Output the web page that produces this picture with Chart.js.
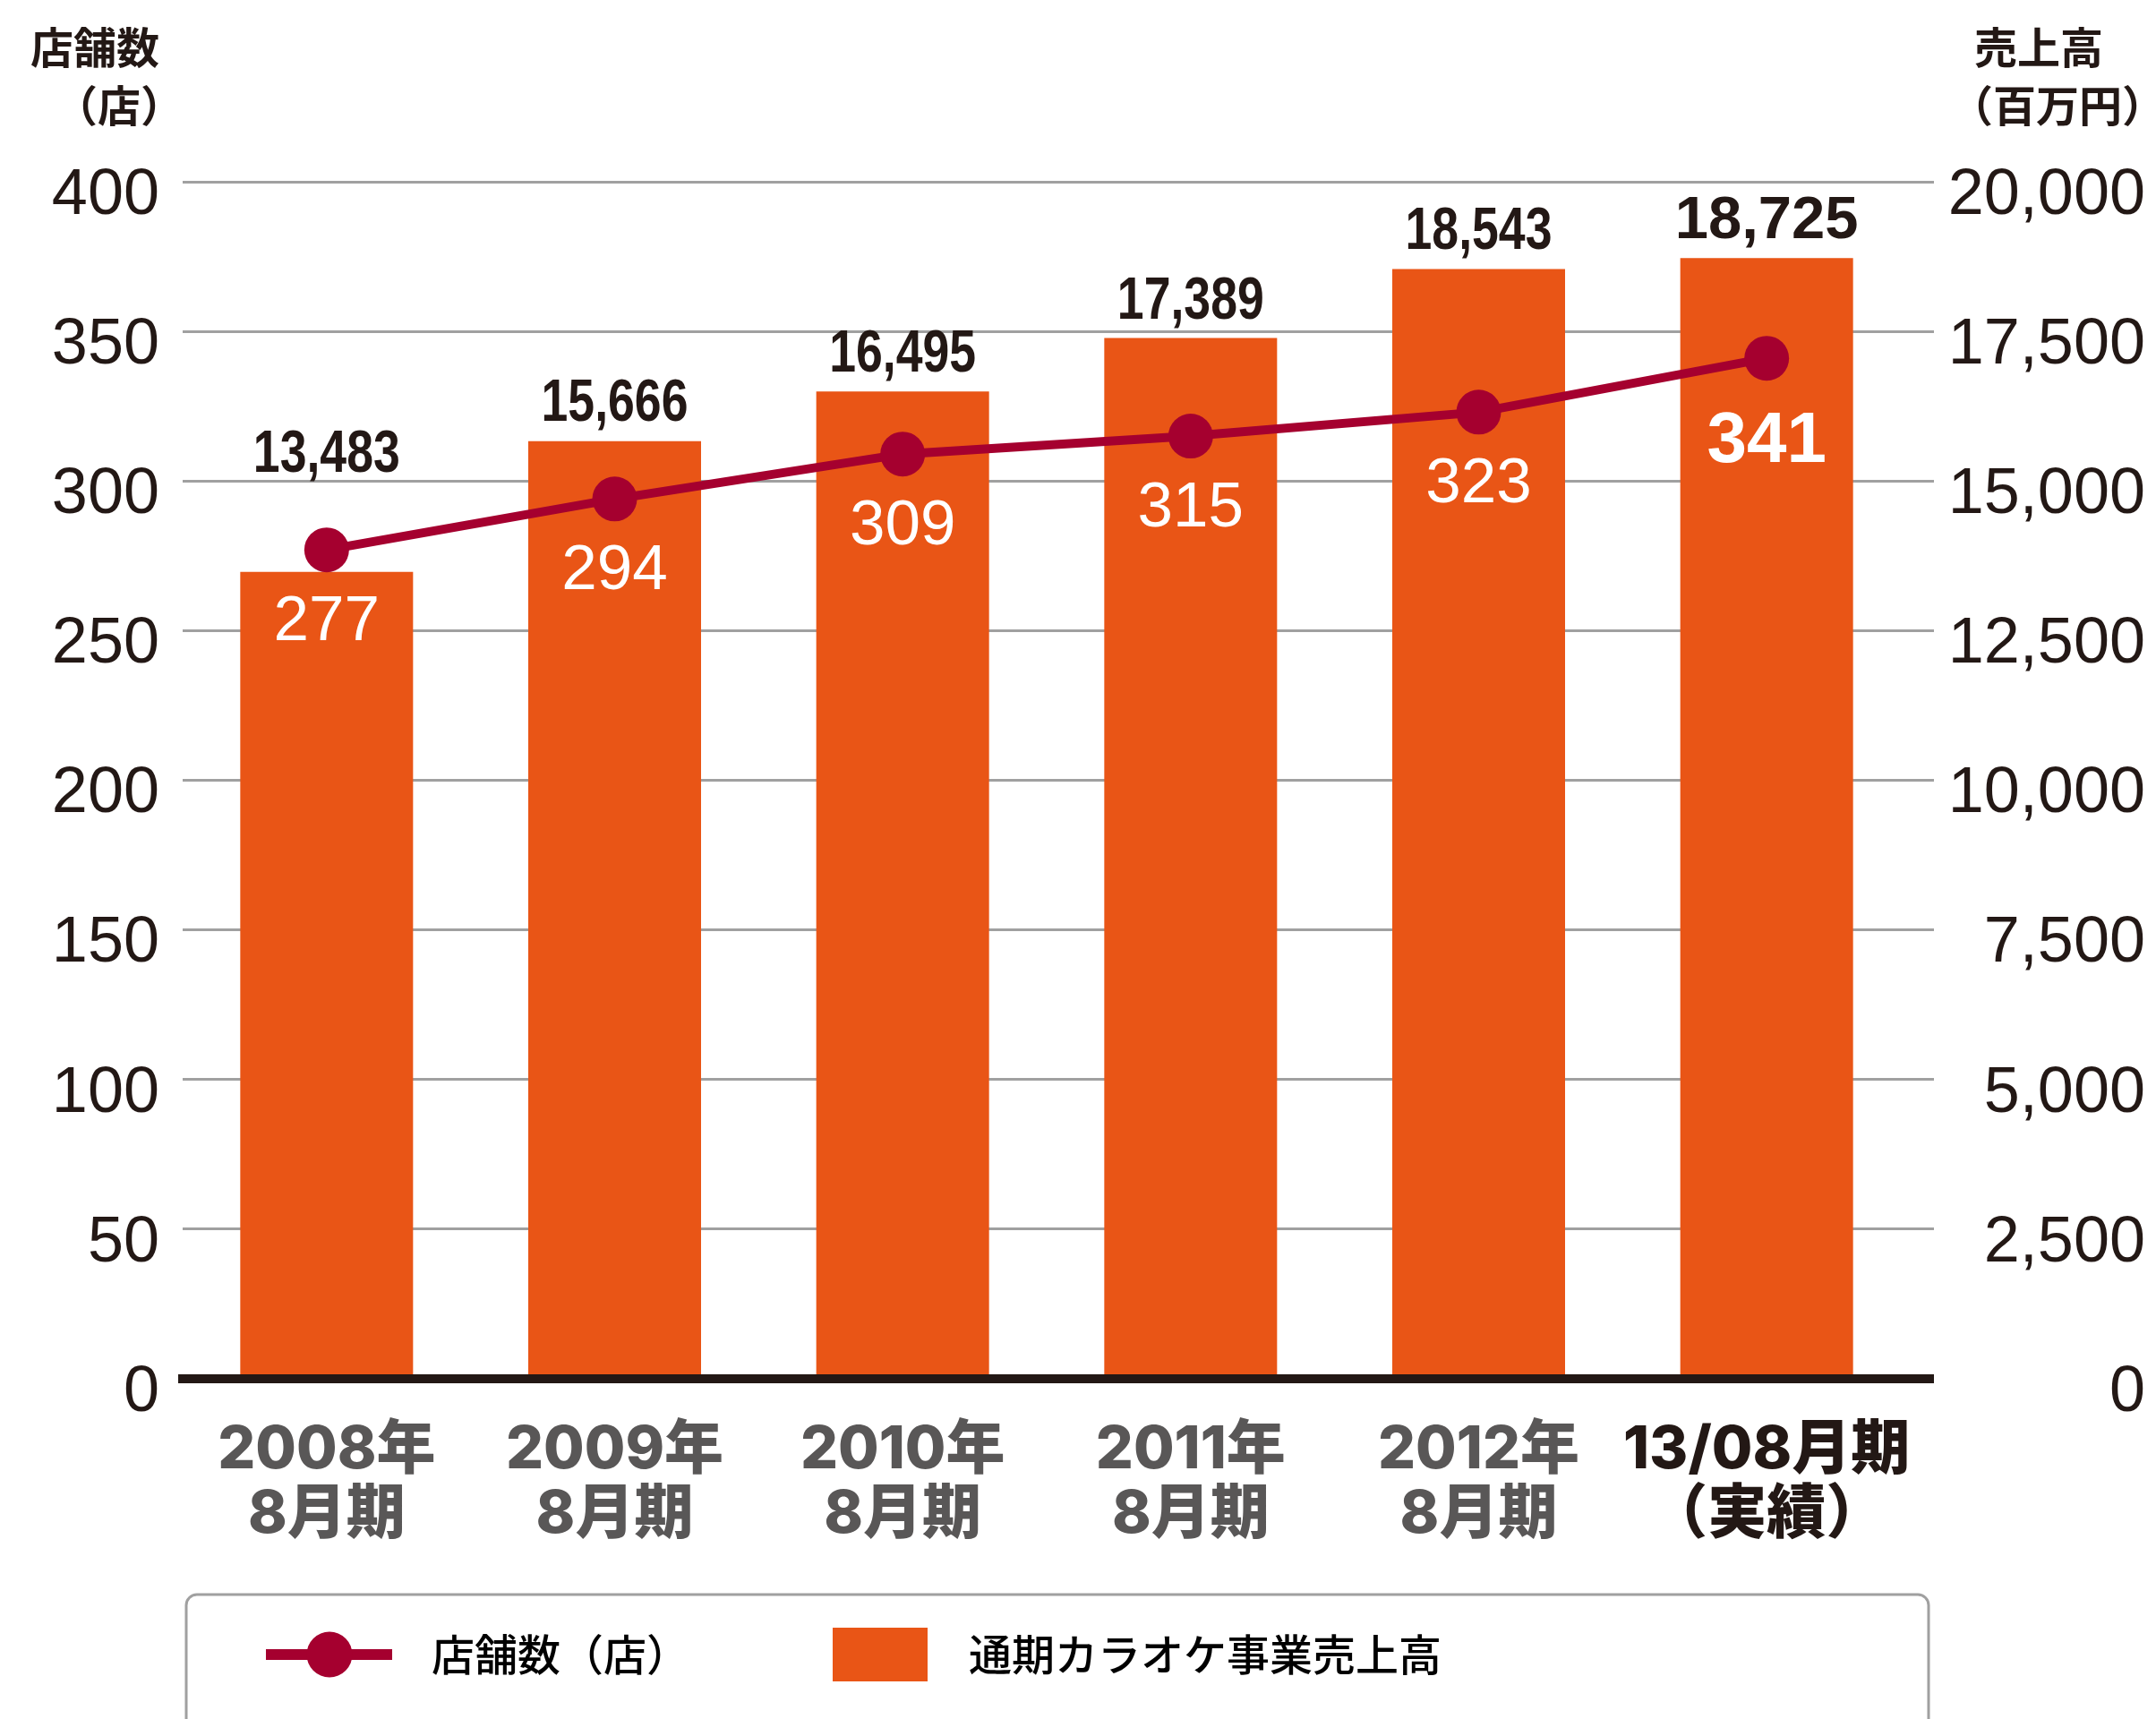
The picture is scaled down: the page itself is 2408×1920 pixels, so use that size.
<!DOCTYPE html>
<html>
<head>
<meta charset="utf-8">
<script src="https://cdn.jsdelivr.net/npm/chart.js@4.4.0/dist/chart.umd.min.js"></script>
<style>
  body { margin: 0; background: #fff; }
</style>
</head>
<body>
<canvas id="chart" width="2408" height="1920"></canvas>
<script>
// Data
const periods = [
  ['2008年', '8月期'],
  ['2009年', '8月期'],
  ['2010年', '8月期'],
  ['2011年', '8月期'],
  ['2012年', '8月期'],
  ['13/08月期', '（実績）'],
];
const storeCounts = [277, 294, 309, 315, 323, 341];
const sales = [13483, 15666, 16495, 17389, 18543, 18725];
const seriesNames = ['店舗数（店）', '通期カラオケ事業売上高'];
const leftTitle = ['店舗数', '（店）'];
const rightTitle = ['売上高', '（百万円）'];
const storeMax = 400;
const storeStep = 50;
const salesMax = 20000;
const salesStep = 2500;

// Styles
const BAR_COLOR = '#E95516';
const LINE_COLOR = '#A5002F';
const TEXT = '#231815';
const GRID = '#a0a0a0';
const NUM_FONT = '"Liberation Sans", Arial, sans-serif';
const JP_FONT = '"Noto Sans CJK JP", sans-serif';
const X_FONT = 'Inter, "Noto Sans CJK JP", sans-serif';
const TICK_SIZE = 72;
const ICON_W = 216;

// widest left tick label, so mirrored labels can be right aligned
const measure = document.createElement('canvas').getContext('2d');
measure.font = `${TICK_SIZE}px ${NUM_FONT}`;
const leftWidest = measure.measureText(String(storeMax)).width;

function lineIcon() {
  const c = document.createElement('canvas');
  c.width = ICON_W;
  c.height = 56;
  const g = c.getContext('2d');
  g.fillStyle = LINE_COLOR;
  g.fillRect(55, 22, 141, 12);
  g.beginPath();
  g.arc(126, 28, 25.5, 0, Math.PI * 2);
  g.fill();
  return c;
}

function boxIcon() {
  const c = document.createElement('canvas');
  c.width = ICON_W;
  c.height = 60;
  const g = c.getContext('2d');
  g.fillStyle = BAR_COLOR;
  g.fillRect(88, 0, 106, 60);
  return c;
}

// tick labels sit a little under their grid line
const lowered = text => ['', text];

const valueLabels = {
  id: 'valueLabels',
  afterDatasetsDraw(chart) {
    const ctx = chart.ctx;
    const lineMeta = chart.getDatasetMeta(0);
    const barMeta = chart.getDatasetMeta(1);
    ctx.save();
    ctx.textAlign = 'center';
    ctx.textBaseline = 'alphabetic';
    barMeta.data.forEach((bar, i) => {
      const pt = lineMeta.data[i];
      const last = i === barMeta.data.length - 1;
      // sales above bar, kept clear of the marker
      const bottom = Math.min(bar.y, pt.y - 65) - 22;
      ctx.font = `bold 67px ${NUM_FONT}`;
      ctx.fillStyle = TEXT;
      ctx.save();
      ctx.translate(bar.x, bottom);
      ctx.scale(last ? 1 : 0.8, 1);
      ctx.fillText(sales[i].toLocaleString('en-US'), 0, 0);
      ctx.restore();
      // store count under the marker
      const f = last ? 80 : 71;
      ctx.font = `${last ? 'bold ' : ''}${f}px ${NUM_FONT}`;
      ctx.fillStyle = '#fff';
      const cy = pt.y + (last ? 87 : 75);
      ctx.fillText(String(storeCounts[i]), pt.x, cy + 0.358 * f);
    });
    ctx.restore();
  },
};

const frame = {
  id: 'frame',
  afterDraw(chart) {
    const ctx = chart.ctx;
    const {y, y1} = chart.scales;
    const top = chart.chartArea.top;
    ctx.save();
    ctx.fillStyle = TEXT;
    ctx.font = `bold 48px ${JP_FONT}`;
    ctx.textBaseline = 'middle';
    ctx.textAlign = 'right';
    ctx.fillText(leftTitle[0], y.right - 26, top - 150);
    ctx.fillText(leftTitle[1], y.right + 1, top - 85);
    ctx.textAlign = 'left';
    ctx.fillText(rightTitle[0], y1.left + 71, top - 150);
    ctx.fillText(rightTitle[1], y1.left + 44, top - 85);

    // legend box
    const lg = chart.legend;
    const left = lg.left + 38;
    ctx.strokeStyle = GRID;
    ctx.lineWidth = 3;
    ctx.beginPath();
    ctx.roundRect(left, lg.top + 29, chart.chartArea.right + 20 - left, 400, 12);
    ctx.stroke();
    ctx.restore();
  },
};

const ctx = document.getElementById('chart').getContext('2d');
new Chart(ctx, {
  type: 'bar',
  data: {
    labels: periods,
    datasets: [
      {
        type: 'line',
        label: seriesNames[0],
        data: storeCounts,
        yAxisID: 'y',
        borderColor: LINE_COLOR,
        backgroundColor: LINE_COLOR,
        borderWidth: 10,
        pointRadius: 25,
        pointHoverRadius: 25,
        pointBorderWidth: 0,
        pointBackgroundColor: LINE_COLOR,
        tension: 0,
      },
      {
        type: 'bar',
        label: seriesNames[1],
        data: sales,
        yAxisID: 'y1',
        backgroundColor: BAR_COLOR,
        categoryPercentage: 1,
        barPercentage: 0.6,
      },
    ],
  },
  options: {
    responsive: false,
    devicePixelRatio: 1,
    animation: false,
    layout: { padding: { left: 170, top: 203, right: 12, bottom: 38 } },
    plugins: {
      tooltip: { enabled: false },
      legend: {
        position: 'bottom',
        align: 'start',
        labels: {
          usePointStyle: true,
          pointStyleWidth: ICON_W,
          padding: 72,
          color: TEXT,
          font: { family: JP_FONT, size: 48, weight: 500 },
          generateLabels: () => [
            { text: seriesNames[0], pointStyle: lineIcon(), datasetIndex: 0, hidden: false, lineWidth: 0 },
            { text: seriesNames[1], pointStyle: boxIcon(), datasetIndex: 1, hidden: false, lineWidth: 0 },
          ],
        },
      },
    },
    scales: {
      x: {
        offset: true,
        grid: { display: false, drawTicks: false },
        border: { display: true, color: TEXT, width: 10, z: 1 },
        ticks: {
          autoSkip: false,
          maxRotation: 0,
          minRotation: 0,
          padding: 45,
          color: c => (c.index === periods.length - 1 ? TEXT : '#595757'),
          font: { family: X_FONT, size: 66, weight: 800, lineHeight: 1.08 },
        },
        afterFit: s => { s.height = 212; },
      },
      y: {
        position: 'left',
        min: 0,
        max: storeMax,
        ticks: {
          stepSize: storeStep,
          mirror: true,
          crossAlign: 'far',
          padding: -(26 + leftWidest),
          color: TEXT,
          font: { family: NUM_FONT, size: TICK_SIZE, lineHeight: '32px' },
          callback: v => lowered(String(v)),
        },
        grid: { color: GRID, lineWidth: 3, drawTicks: false },
        border: { display: false },
        afterFit: s => { s.width = 34; },
      },
      y1: {
        position: 'right',
        min: 0,
        max: salesMax,
        ticks: {
          stepSize: salesStep,
          padding: 2,
          crossAlign: 'far',
          color: TEXT,
          font: { family: NUM_FONT, size: TICK_SIZE, lineHeight: '32px' },
          callback: v => lowered(v.toLocaleString('en-US')),
        },
        grid: {
          drawOnChartArea: false,
          drawTicks: true,
          tickLength: 26,
          color: c => (c.tick && c.tick.value === 0 ? TEXT : GRID),
          lineWidth: c => (c.tick && c.tick.value === 0 ? 10 : 3),
        },
        border: { display: false },
        afterFit: s => { s.width = 262; },
      },
    },
  },
  plugins: [valueLabels, frame],
});
</script>
</body>
</html>
